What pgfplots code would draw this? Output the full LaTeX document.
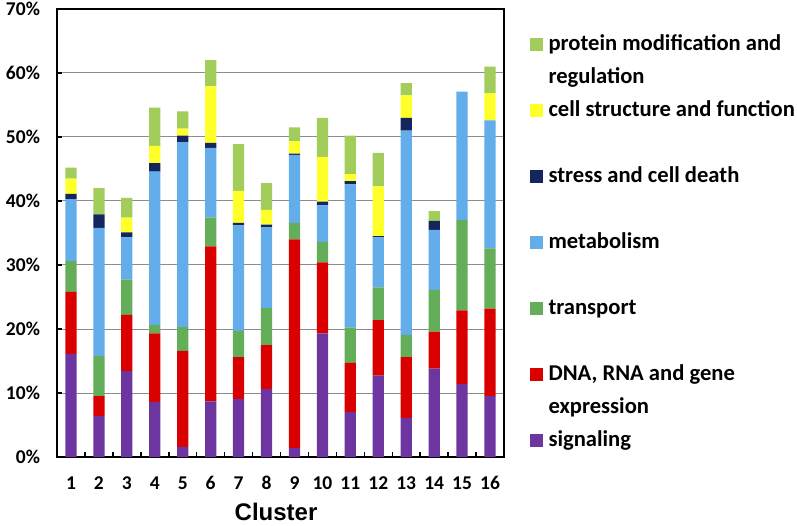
\documentclass[border=0pt]{standalone}
\usepackage{fontspec}
\setmainfont{Carlito}
\newfontfamily\arialfont{Liberation Sans}
\usepackage{pgfplots}
\usepackage{pgfplotstable}
\pgfplotsset{compat=1.18}

\definecolor{sig}{HTML}{6D35A0}
\definecolor{dna}{HTML}{DB0000}
\definecolor{trn}{HTML}{64AE5A}
\definecolor{met}{HTML}{62ADEA}
\definecolor{str}{HTML}{14265C}
\definecolor{cel}{HTML}{FFFF2A}
\definecolor{pro}{HTML}{A3CD5B}
\definecolor{gridgray}{HTML}{8C8C8C}

\pgfplotstableread{
c  sig   dna   trn   met   str  cel  pro
1  16.1  9.7   4.8   9.7   0.8  2.4  1.7
2  6.4   3.1   6.3   20.0  2.1  0    4.1
3  13.4  8.8   5.5   6.6   0.8  2.3  3.1
4  8.6   10.7  1.3   24.0  1.3  2.7  6.0
5  1.6   15.0  3.7   28.9  1.0  1.1  2.7
6  8.7   24.2  4.5   10.9  0.8  8.8  4.1
7  9.1   6.5   4.1   16.5  0.4  5.0  7.3
8  10.6  6.9   5.8   12.6  0.4  2.3  4.2
9  1.4   32.6  2.6   10.6  0.2  1.9  2.2
10 19.3  11.1  3.2   5.7   0.6  7.0  6.1
11 7.0   7.7   5.5   22.4  0.5  1.1  6.0
12 12.7  8.7   5.1   7.8   0.2  7.8  5.2
13 6.1   9.5   3.5   31.9  2.0  3.5  1.9
14 13.8  5.8   6.5   9.4   1.4  0    1.5
15 11.4  11.5  14.1  20.1  0    0    0
16 9.5   13.7  9.4   20.0  0    4.2  4.2
}\datatable

\pgfplotsset{
  legsq/.style={legend image code/.code={\fill[##1,draw=none] (0pt,-6.5pt) rectangle (13pt,6.5pt);}}
}

\begin{document}
\begin{tikzpicture}
\useasboundingbox (-57pt,-68pt) rectangle (740pt,457pt);
\begin{axis}[
  scale only axis,
  width=447pt, height=448pt,
  xmin=0.5, xmax=16.5,
  ymin=0, ymax=70,
  ybar stacked,
  bar width=11.3pt,
  xtick={1,2,...,16},
  minor xtick={1.5,2.5,...,15.5},
  ytick={0,10,...,70},
  xtick pos=bottom, ytick pos=left,
  tick align=inside,
  major tick length=5pt,
  minor tick length=5pt,
  major x tick style={draw=none},
  tick style={black, line width=1.5pt},
  ymajorgrids,
  grid style={gridgray, line width=1pt},
  axis line style={black, line width=2.3pt},
  /pgf/number format/assume math mode=true,
  ticklabel style={font=\fontsize{19.5}{22}\selectfont\bfseries},
  yticklabel={\pgfmathprintnumber{\tick}\%},
  yticklabel style={xshift=-13.5pt},
  xticklabel style={yshift=-16pt},
  xlabel={\arialfont\bfseries Cluster},
  xlabel style={at={(axis description cs:0.49,0)}, anchor=center, yshift=-55pt, font=\fontsize{24}{28}\selectfont},
  legend cell align=left,
  legend style={draw=none, fill=none, at={(1.058,0.9565)}, anchor=north west,
    inner sep=0pt, outer sep=0pt, row sep=0pt, column sep=5.6pt,
    font=\fontsize{22.6}{26}\selectfont\bfseries,
    nodes={inner sep=0pt, text height=22pt, text depth=11pt}},
]
\addlegendimage{legsq, fill=pro}\addlegendentry{protein modification and}
\addlegendimage{empty legend}\addlegendentry{regulation}
\addlegendimage{legsq, fill=cel}\addlegendentry{cell structure and function}
\addlegendimage{empty legend}\addlegendentry{}
\addlegendimage{legsq, fill=str}\addlegendentry{stress and cell death}
\addlegendimage{empty legend}\addlegendentry{}
\addlegendimage{legsq, fill=met}\addlegendentry{metabolism}
\addlegendimage{empty legend}\addlegendentry{}
\addlegendimage{legsq, fill=trn}\addlegendentry{transport}
\addlegendimage{empty legend}\addlegendentry{}
\addlegendimage{legsq, fill=dna}\addlegendentry{DNA, RNA and gene}
\addlegendimage{empty legend}\addlegendentry{expression}
\addlegendimage{legsq, fill=sig}\addlegendentry{signaling}

\addplot[fill=sig, draw=none] table[x=c, y=sig] {\datatable};
\addplot[fill=dna, draw=none] table[x=c, y=dna] {\datatable};
\addplot[fill=trn, draw=none] table[x=c, y=trn] {\datatable};
\addplot[fill=met, draw=none] table[x=c, y=met] {\datatable};
\addplot[fill=str, draw=none] table[x=c, y=str] {\datatable};
\addplot[fill=cel, draw=none] table[x=c, y=cel] {\datatable};
\addplot[fill=pro, draw=none] table[x=c, y=pro] {\datatable};
\end{axis}
\end{tikzpicture}
\end{document}
